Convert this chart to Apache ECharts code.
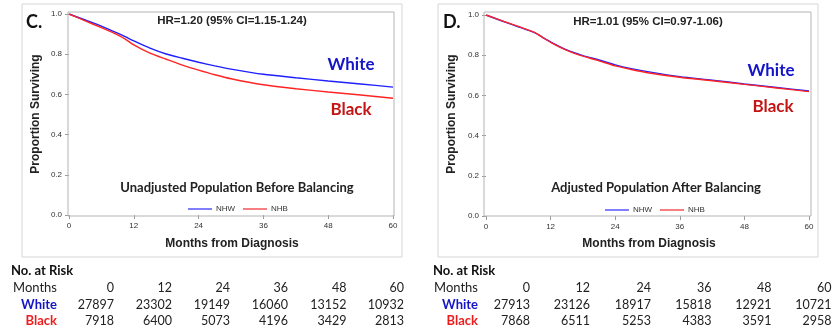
<!DOCTYPE html>
<html><head><meta charset="utf-8">
<script src="https://cdn.jsdelivr.net/npm/echarts@6/dist/echarts.min.js"></script>
<style>html,body{margin:0;padding:0;background:#fff}#c{width:835px;height:335px}</style>
</head><body><div id="c"></div>
<script>
// ---- data ----
const months = [0,3,6,9,10.5,12,15,18,21,24,27,30,36,42,48,54,60];
const unadjWhite = [1.0,0.970,0.940,0.905,0.886,0.866,0.830,0.801,0.780,0.760,0.742,0.726,0.700,0.683,0.667,0.652,0.636];
const unadjBlack = [1.0,0.966,0.932,0.896,0.874,0.846,0.805,0.775,0.746,0.721,0.698,0.678,0.648,0.628,0.612,0.597,0.581];
const adjWhite = [1.0,0.970,0.941,0.912,0.889,0.866,0.826,0.798,0.776,0.752,0.733,0.718,0.693,0.676,0.657,0.639,0.622];
const adjBlack = [1.0,0.971,0.943,0.914,0.889,0.864,0.824,0.795,0.772,0.747,0.729,0.713,0.690,0.673,0.655,0.637,0.619];
const riskMonths = ['0','12','24','36','48','60'];
const riskWhiteC = ['27897','23302','19149','16060','13152','10932'];
const riskBlackC = ['7918','6400','5073','4196','3429','2813'];
const riskWhiteD = ['27913','23126','18917','15818','12921','10721'];
const riskBlackD = ['7868','6511','5253','4383','3591','2958'];
const panelC = {tag:'C.', hr:'HR=1.20 (95% CI=1.15-1.24)', sub:'Unadjusted Population Before Balancing'};
const panelD = {tag:'D.', hr:'HR=1.01 (95% CI=0.97-1.06)', sub:'Adjusted Population After Balancing'};

const pair = (xs, ys) => xs.map((x,i)=>[x, ys[i]]);
const BLUE = '#1f1fff', RED = '#ff2424';
const TXT_BLUE = '#1414c8', TXT_RED = '#c41414';

const chart = echarts.init(document.getElementById('c'), null, {renderer:'canvas'});

function axes(idx){
  return {
    x: {type:'value', gridIndex:idx, min:0, max:60, interval:12,
        axisLine:{show:false}, splitLine:{show:false},
        axisTick:{show:true, length:4, lineStyle:{color:'#999'}},
        axisLabel:{fontSize:8, color:'#333', margin:7, fontFamily:'Liberation Sans'}},
    y: {type:'value', gridIndex:idx, min:0, max:1, interval:0.2,
        axisLine:{show:false}, splitLine:{show:false},
        axisTick:{show:true, length:4, lineStyle:{color:'#999'}},
        axisLabel:{fontSize:8, color:'#333', margin:7, fontFamily:'Liberation Sans',
                   formatter:v=>v.toFixed(1)}}
  };
}
const a0 = axes(0), a1 = axes(1);

function line(name, xi, data, color){
  return {type:'line', name, xAxisIndex:xi, yAxisIndex:xi, data, showSymbol:false,
          smooth:0.25, lineStyle:{color, width:1.4}, itemStyle:{color}, silent:true, animation:false};
}

function panelGraphics(p, o){
  const g = [];
  g.push({type:'rect', shape:{x:o.boxX, y:4, width:o.boxW, height:253}, style:{fill:'none', stroke:'#d6d6d6', lineWidth:1}, z:0});
  g.push({type:'rect', shape:{x:o.fx, y:12, width:o.fw, height:204}, style:{fill:'none', stroke:'#b4b4b4', lineWidth:1}, z:1});
  g.push({type:'text', x:o.tagX, y:22, style:{text:p.tag, font:'bold 18px Lato', fill:'#111', verticalAlign:'middle'}});
  g.push({type:'text', x:o.hrX, y:o.hrY, style:{text:p.hr, font:'bold 11.5px "Liberation Sans"', fill:'#222', align:'center', verticalAlign:'middle'}});
  g.push({type:'text', x:o.subX, y:188, style:{text:p.sub, font:'bold 13px Lato', fill:'#222', align:'center', verticalAlign:'middle'}});
  g.push({type:'text', x:o.wX, y:o.wY, style:{text:'White', font:'bold 17px Lato', fill:TXT_BLUE, align:'center', verticalAlign:'middle'}});
  g.push({type:'text', x:o.bX, y:o.bY, style:{text:'Black', font:'bold 17px Lato', fill:TXT_RED, align:'center', verticalAlign:'middle'}});
  g.push({type:'text', x:o.ytX, y:114, rotation:Math.PI/2, style:{text:'Proportion Surviving', font:'bold 12px "Liberation Sans"', fill:'#222', align:'center', verticalAlign:'middle'}});
  g.push({type:'text', x:o.xtX, y:244, style:{text:'Months from Diagnosis', font:'bold 12px "Liberation Sans"', fill:'#222', align:'center', verticalAlign:'middle'}});
  // legend
  g.push({type:'line', shape:{x1:o.lg1, y1:o.lgY, x2:o.lg1+24, y2:o.lgY}, style:{stroke:'#3a3aff', lineWidth:1.3}});
  g.push({type:'text', x:o.lg1+28, y:o.lgY, style:{text:'NHW', font:'8px "Liberation Sans"', fill:'#333', verticalAlign:'middle'}});
  g.push({type:'line', shape:{x1:o.lg2, y1:o.lgY, x2:o.lg2+24, y2:o.lgY}, style:{stroke:'#f43a3a', lineWidth:1.3}});
  g.push({type:'text', x:o.lg2+28, y:o.lgY, style:{text:'NHB', font:'8px "Liberation Sans"', fill:'#333', verticalAlign:'middle'}});
  // risk table
  g.push({type:'text', x:o.rtX, y:271, style:{text:'No. at Risk', font:'bold 13px Lato', fill:'#111', verticalAlign:'middle'}});
  g.push({type:'text', x:o.lblR, y:288, style:{text:'Months', font:'13px Lato', fill:'#222', align:'right', verticalAlign:'middle'}});
  g.push({type:'text', x:o.lblR, y:304.5, style:{text:'White', font:'bold 13px Lato', fill:'#1414c8', align:'right', verticalAlign:'middle'}});
  g.push({type:'text', x:o.lblR, y:321, style:{text:'Black', font:'bold 13px Lato', fill:'#ee1c1c', align:'right', verticalAlign:'middle'}});
  const rows = [[riskMonths,288],[o.rw,304.5],[o.rb,321]];
  rows.forEach(([arr,y])=>{
    arr.forEach((t,i)=>{
      g.push({type:'text', x:o.colR[i], y, style:{text:t, font:'12.5px Lato', fill:'#222', align:'right', verticalAlign:'middle'}});
    });
  });
  return g;
}

const gC = panelGraphics(panelC, {boxX:22, boxW:380, fx:68, fw:326, tagX:26, hrX:232, hrY:21, subX:237,
  wX:351, wY:65, bX:351, bY:110, ytX:36, xtX:232, lg1:188, lg2:243, lgY:209,
  rtX:11, lblR:57, rw:riskWhiteC, rb:riskBlackC, colR:[114,172,230,288,346.5,404]});
const gD = panelGraphics(panelD, {boxX:438, boxW:380, fx:484, fw:327, tagX:443, hrX:648, hrY:22, subX:656,
  wX:771, wY:71, bX:773, bY:107, ytX:452, xtX:649, lg1:605, lg2:660, lgY:210,
  rtX:433, lblR:478, rw:riskWhiteD, rb:riskBlackD, colR:[530,590,651,711.5,771.5,831.5]});

chart.setOption({
  animation:false,
  grid:[{left:69, right:835-393, top:14, bottom:335-215},
        {left:486, right:835-809, top:15, bottom:335-216}],
  xAxis:[a0.x, a1.x],
  yAxis:[a0.y, a1.y],
  series:[
    line('NHW', 0, pair(months, unadjWhite), BLUE),
    line('NHB', 0, pair(months, unadjBlack), RED),
    line('NHW', 1, pair(months, adjWhite), BLUE),
    line('NHB', 1, pair(months, adjBlack), RED)
  ],
  graphic: gC.concat(gD)
});
</script></body></html>
